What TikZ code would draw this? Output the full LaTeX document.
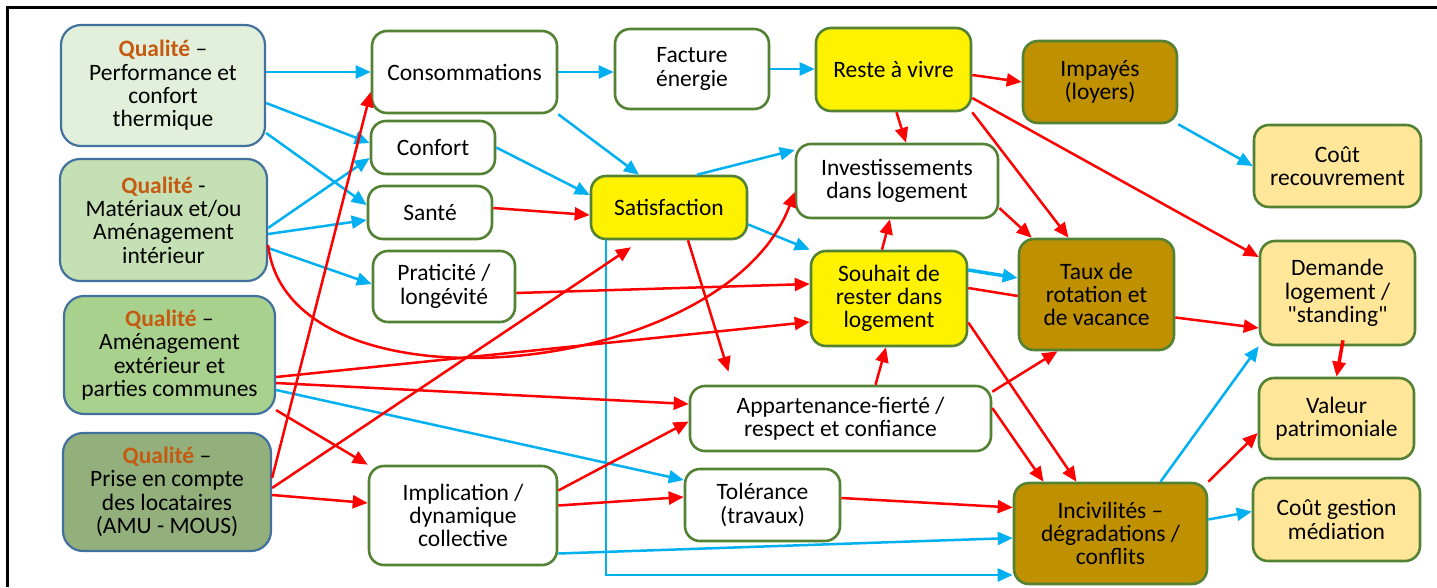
\documentclass[tikz,border=0pt]{standalone}
\usepackage{fontspec}
\setmainfont{Carlito}
\usetikzlibrary{arrows.meta}

\definecolor{qborder}{HTML}{41719C}
\definecolor{gborder}{HTML}{548235}
\definecolor{qone}{HTML}{E2EFDA}
\definecolor{qtwo}{HTML}{C5E0B4}
\definecolor{qthree}{HTML}{A9D18E}
\definecolor{qfour}{HTML}{92AF7C}
\definecolor{qorange}{HTML}{C55A11}
\definecolor{gold}{HTML}{BF9000}
\definecolor{pale}{HTML}{FFE699}
\definecolor{cyanline}{HTML}{00B0F0}

\newcommand{\qual}[1]{\textcolor{qorange}{\textbf{Qualité}} #1}

\tikzset{
  qbox/.style={draw=qborder, line width=2.2pt, rounded corners=20pt, align=center,
    inner sep=2pt, font=\fontsize{23.5pt}{23.3pt}\selectfont},
  gbox/.style={draw=gborder, line width=2.6pt, rounded corners=15pt, fill=white, align=center,
    inner sep=2pt, font=\fontsize{23.5pt}{23.3pt}\selectfont},
  ybox/.style={gbox, fill=yellow},
  dbox/.style={gbox, fill=gold},
  pbox/.style={gbox, fill=pale},
  blu/.style={draw=cyanline, line width=2.5pt, -{Triangle[length=15pt,width=13pt]}},
  rd/.style={draw=red, line width=2.5pt, -{Triangle[length=15pt,width=13pt]}},
}

\begin{document}
\begin{tikzpicture}[x=1pt,y=1pt]
        \useasboundingbox (0,0) rectangle (1437,-587);

        % Frame (top and left edges)
        \draw[line width=3pt] (7,-587) -- (7,-7) -- (1437,-7);

        % Quality levers
        \node[qbox, fill=qone, minimum width=204pt, minimum height=121pt] (q1) at (163,-85.5) {\qual{–}\\Performance et\\confort\\thermique};
        \node[qbox, fill=qtwo, minimum width=207pt, minimum height=122pt] (q2) at (163.5,-220) {\qual{-}\\Matériaux et/ou\\Aménagement\\intérieur};
        \node[qbox, fill=qthree, minimum width=211pt, minimum height=118pt] (q3) at (169.5,-355) {\qual{–}\\Aménagement\\extérieur et\\parties communes};
        \node[qbox, fill=qfour, minimum width=208pt, minimum height=118pt] (q4) at (167,-492) {\qual{–}\\Prise en compte\\des locataires\\(AMU - MOUS)};

        % Direct effects
        \node[gbox, minimum width=185pt, minimum height=82pt] (cons) at (464.5,-72) {Consommations};
        \node[gbox, minimum width=124pt, minimum height=53pt] (conf) at (433,-147.5) {Confort};
        \node[gbox, minimum width=124pt, minimum height=53pt] (sante) at (430,-212.5) {Santé};
        \node[gbox, minimum width=142pt, minimum height=71pt] (prat) at (444,-286.5) {Praticité /\\longévité};
        \node[gbox, minimum width=188pt, minimum height=99pt] (impl) at (463,-515.5) {Implication /\\dynamique\\collective};

        % Intermediate effects
        \node[gbox, minimum width=154pt, minimum height=80pt] (fact) at (692,-69) {Facture\\énergie};
        \node[ybox, minimum width=156pt, minimum height=63pt] (satis) at (669,-207.5) {Satisfaction};
        \node[gbox, minimum width=301pt, minimum height=65pt] (appart) at (840.5,-418.5) {Appartenance-fierté /\\respect et confiance};
        \node[gbox, minimum width=155pt, minimum height=72pt] (toler) at (762.5,-505) {Tolérance\\(travaux)};
        \node[ybox, minimum width=155pt, minimum height=83pt] (reste) at (893.5,-69.5) {Reste à vivre};
        \node[gbox, minimum width=202pt, minimum height=74pt] (invest) at (897,-181) {Investissements\\dans logement};
        \node[ybox, minimum width=156pt, minimum height=95pt] (souhait) at (889,-298.5) {Souhait de\\rester dans\\logement};

        % Consequences for the landlord
        \node[dbox, minimum width=154pt, minimum height=82pt] (impayes) at (1100,-82) {Impayés\\(loyers)};
        \node[dbox, minimum width=155pt, minimum height=111pt] (taux) at (1096.5,-294.5) {Taux de\\rotation et\\de vacance};
        \node[dbox, minimum width=193pt, minimum height=101pt] (incivil) at (1110.5,-533.5) {Incivilités –\\dégradations /\\conflits};
        \node[pbox, minimum width=167pt, minimum height=82pt] (coutrec) at (1337.5,-166) {Coût\\recouvrement};
        \node[pbox, minimum width=155pt, minimum height=104pt] (demande) at (1337.5,-293) {Demande\\logement /\\\textquotedbl standing\textquotedbl};
        \node[pbox, minimum width=155pt, minimum height=81pt] (valeur) at (1336.5,-418.5) {Valeur\\patrimoniale};
        \node[pbox, minimum width=167pt, minimum height=83pt] (coutgest) at (1336.5,-519.5) {Coût gestion\\médiation};

        % Blue links
        \draw[blu] (q1.east |- cons.west) -- (cons.west);
        \draw[blu] ([yshift=-17.5pt]q1.east) -- ([yshift=4.5pt]conf.west);
        \draw[blu] ([yshift=-47.5pt]q1.east) -- ([yshift=7.5pt]sante.west);
        \draw[blu] ([yshift=-8pt]q2.east) -- ([yshift=-10.5pt]conf.west);
        \draw[blu] ([yshift=-14pt]q2.east) -- ([yshift=-7.5pt]sante.west);
        \draw[blu] ([yshift=-28pt]q2.east) -- ([yshift=2.5pt]prat.west);
        \draw[blu] (cons.south east) -- ([xshift=-30pt]satis.north);
        \draw[blu] (conf.east) -- ([yshift=12.5pt]satis.west);
        \draw[blu] (cons.east) -- (cons.east -| fact.west);
        \draw[blu] (fact.east) -- (fact.east -| reste.west);
        \draw[blu] ([xshift=28pt]satis.north) -- ([yshift=31pt]invest.west);
        \draw[blu] ([yshift=-17pt]satis.east) -- (souhait.north west);
        \draw[blu, line width=3.5pt] ([yshift=28.5pt]souhait.east) -- ([yshift=16.5pt]taux.west);
        \draw[blu] (impayes.south east) -- (coutrec.west);
        \draw[blu] ([yshift=-35pt]q3.east) -- ([yshift=25pt]toler.west);
        \draw[blu] ([xshift=-63pt]satis.south) |- ([yshift=-41.5pt]incivil.west);
        \draw[blu] ([yshift=-38pt]impl.east) -- ([yshift=-4.5pt]incivil.west);
        \draw[blu] ([xshift=50pt]incivil.north) -- (demande.south west);
        \draw[blu] ([yshift=14pt]incivil.east) -- ([yshift=8pt]coutgest.west);

        % Red links
        \draw[rd] ([yshift=14pt]q4.east) -- ([yshift=-20pt]cons.west);
        \draw[rd] ([yshift=4pt]q4.east) -- ([xshift=-38pt,yshift=-7pt]satis.south);
        \draw[rd] ([yshift=-3pt]q4.east) -- ([yshift=12.5pt]impl.west);
        \draw[rd] ([yshift=5pt]q3.south east) -- (impl.north west);
        \draw[rd] ([yshift=-22pt]q3.east) -- ([yshift=-23.5pt]souhait.west);
        \draw[rd] ([yshift=-28pt]q3.east) -- ([yshift=14.5pt]appart.west);
        \draw[rd] ([yshift=-25pt]q2.east) .. controls +(20,-175) and +(-70,-188) .. ([yshift=-11pt]invest.west);
        \draw[rd] ([yshift=-6.5pt]prat.east) -- ([yshift=14.5pt]souhait.west);
        \draw[rd] ([yshift=4.5pt]sante.east) -- ([yshift=-7.5pt]satis.west);
        \draw[rd] ([xshift=19pt]satis.south) -- ([xshift=-112pt,yshift=13pt]appart.north);
        \draw[rd] ([yshift=-5.5pt]reste.east) -- (impayes.west);
        \draw[rd] ([xshift=3pt]reste.south) -- ([xshift=9pt]invest.north);
        \draw[rd] (reste.south east) -- ([xshift=-28pt]taux.north);
        \draw[rd] ([yshift=-28.5pt]reste.east) -- ([yshift=36pt]demande.west);
        \draw[rd] ([yshift=-27pt]invest.east) -- ([xshift=14pt]taux.north west);
        \draw[rd] ([xshift=-7pt]souhait.north) -- ([xshift=-7pt]invest.south);
        \draw[red, line width=2.5pt] ([yshift=10.5pt]souhait.east) -- ([yshift=-1.5pt]taux.west);
        \draw[rd] ([yshift=-24pt]souhait.east) -- ([xshift=-34pt]incivil.north);
        \draw[rd] ([yshift=-7pt]appart.north east) -- ([xshift=-39pt]taux.south);
        \draw[rd] ([yshift=10.5pt]appart.east) -- ([xshift=-67pt]incivil.north);
        \draw[rd] ([xshift=35pt]appart.north) -- ([xshift=-3pt]souhait.south);
        \draw[rd] ([yshift=25pt]impl.east) -- ([yshift=-3pt]appart.west);
        \draw[rd] ([yshift=10pt]impl.east) -- ([yshift=8pt]toler.west);
        \draw[rd] ([yshift=7pt]toler.east) -- ([yshift=26pt]incivil.west);
        \draw[rd] ([yshift=-23pt]taux.east) -- ([yshift=-35pt]demande.west);
        \draw[rd, line width=3.5pt] ([xshift=5.5pt,yshift=6pt]demande.south) -- (valeur.north);
        \draw[rd] (incivil.north east) -- ([yshift=-14.5pt]valeur.west);
\end{tikzpicture}
\end{document}
